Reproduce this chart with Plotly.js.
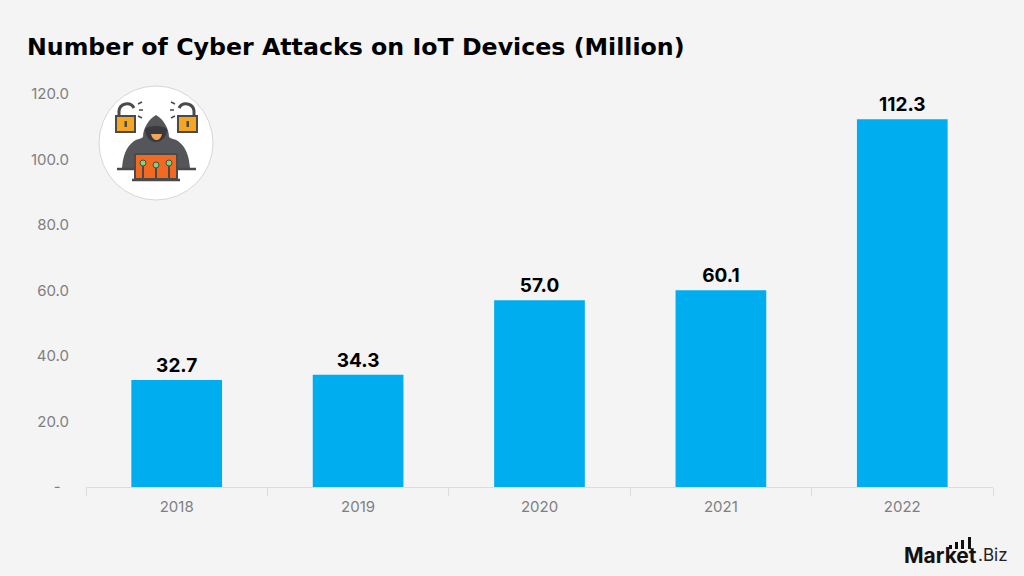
<!DOCTYPE html>
<html><head><meta charset="utf-8">
<script src="https://cdn.plot.ly/plotly-3.0.1.min.js"></script>
<style>html,body{margin:0;padding:0;background:#f4f4f4}#c{width:1024px;height:576px}</style>
</head><body><div id="c"></div>
<script>
const years = ['2018','2019','2020','2021','2022'];
const attacks = [32.7,34.3,57.0,60.1,112.3];
const valueLabels = ['32.7','34.3','57.0','60.1','112.3'];
const yTickVals = [0,20,40,60,80,100,120];
const yTickText = ['-\u00a0\u00a0','20.0','40.0','60.0','80.0','100.0','120.0'];
const FONT = 'Inter, "Open Sans", sans-serif';
const TITLE_FONT = '"DejaVu Sans", Inter, sans-serif';

const icon = `<svg xmlns="http://www.w3.org/2000/svg" viewBox="0 0 116 116" width="116" height="116">
<circle cx="58" cy="58" r="57" fill="#fff" stroke="#d6d6d6" stroke-width="1"/>
<path d="M21 31v-5a8 8 0 0 1 15 -3" fill="none" stroke="#4a4a4a" stroke-width="3"/>
<rect x="18" y="31" width="19" height="16" fill="#f5a623" stroke="#4a4a4a" stroke-width="2"/>
<rect x="26.500" y="36" width="2.500" height="6" fill="#4a4a4a"/>
<path d="M96 31v-5a8 8 0 0 0 -15 -3" fill="none" stroke="#4a4a4a" stroke-width="3"/>
<rect x="80" y="31" width="19" height="16" fill="#f5a623" stroke="#4a4a4a" stroke-width="2"/>
<rect x="88.500" y="36" width="2.500" height="6" fill="#4a4a4a"/>
<path d="M40 19l4 -2M41 25h4M40 31l4 2M77 19l-4 -2M76 25h-4M77 31l-4 2" stroke="#4a4a4a" stroke-width="1.500"/>
<path d="M24 83c1 -12 4 -21 12 -27c3 -2 7 -2 9 -4c0 -9 6 -18 13 -22c7 4 13 13 13 22c2 2 6 2 9 4c8 6 11 15 12 27z" fill="#55565a"/>
<path d="M47 44c3 -4 19 -4 22 0c0 7 -5 13 -11 13s-11 -6 -11 -13z" fill="#3a3a3e"/>
<path d="M53 49h11c-1 4 -3 6 -5.500 6s-4.500 -2 -5.500 -6z" fill="#f2a65a"/>
<rect x="37" y="69" width="42" height="25" fill="#f26a21" stroke="#4a4a4a" stroke-width="2"/>
<path d="M19 84h18M79 84h19M34 95h48" stroke="#4a4a4a" stroke-width="2.500"/>
<path d="M45 80v14M58 81v13M71 80v14" stroke="#4a4a4a" stroke-width="2"/>
<circle cx="45" cy="78" r="3" fill="#7ed37e" stroke="#4a4a4a"/><circle cx="58" cy="80" r="3" fill="#7ed37e" stroke="#4a4a4a"/><circle cx="71" cy="78" r="3" fill="#7ed37e" stroke="#4a4a4a"/>
</svg>`;

const W = 1024, H = 576;
const logoBars = [[949,4],[955,7],[961,9],[968,12]];

Plotly.newPlot('c', [{
  type: 'bar',
  x: years,
  y: attacks,
  marker: {color: '#00aeef', line: {width: 3, color: 'rgba(0,0,0,0)'}},
  text: valueLabels,
  textposition: 'outside',
  cliponaxis: false,
  textfont: {family: FONT, size: 19, color: '#000', weight: 700},
  hoverinfo: 'x+y'
}], {
  width: W, height: H,
  paper_bgcolor: '#f4f4f4',
  plot_bgcolor: '#f4f4f4',
  showlegend: false,
  bargap: 0.5,
  margin: {l: 86, r: 31, t: 94, b: 89, pad: 0},
  title: {
    text: '<b>Number of Cyber Attacks on IoT Devices (Million)</b>',
    font: {family: TITLE_FONT, size: 23.7, color: '#000'},
    x: 27 / W, xanchor: 'left', y: 1 - 47 / H, yanchor: 'middle'
  },
  xaxis: {
    type: 'category',
    tickson: 'boundaries',
    ticks: 'outside', ticklen: 8, tickcolor: '#dcdcdc', tickwidth: 1,
    ticklabelstandoff: 6,
    showline: true, linecolor: '#dcdcdc', linewidth: 1,
    showgrid: false,
    tickfont: {family: FONT, size: 15, color: '#7f7f7f'}
  },
  yaxis: {
    range: [0, 120],
    tickvals: yTickVals, ticktext: yTickText,
    ticks: '', showgrid: false, zeroline: false, showline: false,
    ticklabelstandoff: 16,
    tickfont: {family: FONT, size: 15, color: '#7f7f7f'}
  },
  images: [{
    source: 'data:image/svg+xml;utf8,' + encodeURIComponent(icon),
    xref: 'paper', yref: 'paper', layer: 'above',
    x: (98 - 86) / 907, y: (487 - 85) / 393,
    sizex: 116 / 907, sizey: 116 / 393,
    xanchor: 'left', yanchor: 'top', sizing: 'stretch'
  }],
  annotations: [{
    text: '<b>Market</b>', xref: 'paper', yref: 'paper',
    x: (979 - 86) / 907, y: (487 - 555) / 393,
    xanchor: 'right', yanchor: 'middle', showarrow: false,
    font: {family: FONT, size: 21, color: '#111'}
  }, {
    text: '.Biz', xref: 'paper', yref: 'paper',
    x: (976 - 86) / 907, y: (487 - 555) / 393,
    xanchor: 'left', yanchor: 'middle', showarrow: false,
    font: {family: FONT, size: 17, color: '#222'}
  }],
  shapes: logoBars.map(b => ({
    type: 'rect', xref: 'paper', yref: 'paper', layer: 'above',
    x0: (b[0] - 86) / 907, x1: (b[0] + 3 - 86) / 907,
    y0: (487 - 549) / 393, y1: (487 - 549 + b[1]) / 393,
    fillcolor: '#111', line: {width: 0}
  }))
}, {displayModeBar: false, staticPlot: true});
</script></body></html>
